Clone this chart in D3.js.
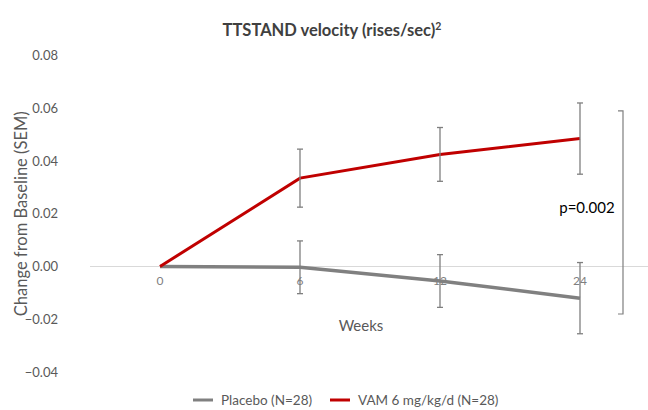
<!DOCTYPE html>
<html><head><meta charset="utf-8">
<script src="https://cdn.jsdelivr.net/npm/d3@7"></script>
<style>body{margin:0;background:#fff}svg{display:block}</style>
</head><body><div id="chart"></div>
<script>
const weeks = ["0","6","12","24"];
const placebo = [0, -0.0003, -0.0055, -0.012];
const placeboErr = [0, 0.010, 0.010, 0.0135];
const vam = [0, 0.0335, 0.0425, 0.0485];
const vamErr = [0, 0.011, 0.0102, 0.0135];
const yTicks = [0.08, 0.06, 0.04, 0.02, 0.00, -0.02, -0.04];
const seriesNames = ["Placebo (N=28)", "VAM 6 mg/kg/d (N=28)"];
const bracketRange = [0.059, -0.018];
const pLabel = "p=0.002";

const W = 648, H = 410;
const font = "Lato, 'Open Sans', sans-serif";
const svg = d3.select("#chart").append("svg").attr("width", W).attr("height", H);

const x = d3.scaleBand().domain(weeks).range([90, 650]);
const y = d3.scaleLinear().domain([-0.04, 0.08]).range([372, 55.5]);
const cx = d => x(d) + x.bandwidth() / 2;

// title
const t = svg.append("text").attr("x", 332).attr("y", 36).attr("text-anchor", "middle")
  .attr("font-family", font).attr("font-weight", "bold").attr("font-size", 16.5).attr("fill", "#404040")
  .text("TTSTAND velocity (rises/sec)");
t.append("tspan").attr("dy", -6).attr("font-size", 10.5).text("2");

// y axis labels
const yAxis = d3.axisLeft(y).tickValues(yTicks).tickFormat(d3.format(".2f")).tickSize(0).tickPadding(0);
const ya = svg.append("g").attr("transform", "translate(58,0)").call(yAxis);
ya.select(".domain").remove();
ya.selectAll("text").attr("font-family", font).attr("font-size", 13).attr("fill", "#595959");

// zero line
svg.append("line").attr("x1", 90).attr("x2", 648).attr("y1", y(0)).attr("y2", y(0))
  .attr("stroke", "#d9d9d9").attr("stroke-width", 1.2);

// x tick labels
const xAxis = d3.axisBottom(x).tickSize(0).tickPadding(0);
const xa = svg.append("g").attr("transform", `translate(0,${y(0) + 10})`).call(xAxis);
xa.select(".domain").remove();
xa.selectAll("text").attr("font-family", font).attr("font-size", 12).attr("fill", "#7f7f7f");

// axis titles
svg.append("text").attr("transform", `translate(27,${y(0.02)}) rotate(-90)`).attr("text-anchor", "middle")
  .attr("font-family", font).attr("font-size", 16.5).attr("fill", "#595959").text("Change from Baseline (SEM)");
svg.append("text").attr("x", 361).attr("y", 331).attr("text-anchor", "middle")
  .attr("font-family", font).attr("font-size", 15).attr("fill", "#595959").text("Weeks");

// lines
const line = d3.line().x((d, i) => cx(weeks[i])).y(d => y(d));
svg.append("path").datum(placebo).attr("d", line).attr("fill", "none").attr("stroke", "#808080")
  .attr("stroke-width", 3.5);
svg.append("path").datum(vam).attr("d", line).attr("fill", "none").attr("stroke", "#c00000")
  .attr("stroke-width", 3);

// error bars
function errBars(vals, errs) {
  const g = svg.append("g").attr("stroke", "#7f7f7f").attr("stroke-width", 1.3);
  vals.forEach((v, i) => {
    if (!errs[i]) return;
    const xx = cx(weeks[i]);
    const top = y(v + errs[i]), bot = y(v - errs[i]);
    g.append("line").attr("x1", xx).attr("x2", xx).attr("y1", top).attr("y2", bot);
    g.append("line").attr("x1", xx - 3).attr("x2", xx + 3).attr("y1", top).attr("y2", top);
    g.append("line").attr("x1", xx - 3).attr("x2", xx + 3).attr("y1", bot).attr("y2", bot);
  });
}
errBars(placebo, placeboErr);
errBars(vam, vamErr);

// bracket
const bx = 623;
svg.append("path")
  .attr("d", `M${bx - 5},${y(bracketRange[0])}H${bx}V${y(bracketRange[1])}H${bx - 5}`)
  .attr("fill", "none").attr("stroke", "#7f7f7f").attr("stroke-width", 1.2);
svg.append("text").attr("x", 587).attr("y", 213).attr("text-anchor", "middle")
  .attr("font-family", font).attr("font-size", 15).attr("fill", "#000").text(pLabel);

// legend
const leg = svg.append("g");
const items = [{name: seriesNames[0], color: "#808080", x: 193}, {name: seriesNames[1], color: "#c00000", x: 330}];
items.forEach(it => {
  leg.append("line").attr("x1", it.x).attr("x2", it.x + 20).attr("y1", 400).attr("y2", 400)
    .attr("stroke", it.color).attr("stroke-width", 3);
  leg.append("text").attr("x", it.x + 28).attr("y", 405).attr("font-family", font).attr("font-size", 13.5)
    .attr("fill", "#595959").text(it.name);
});
</script></body></html>
